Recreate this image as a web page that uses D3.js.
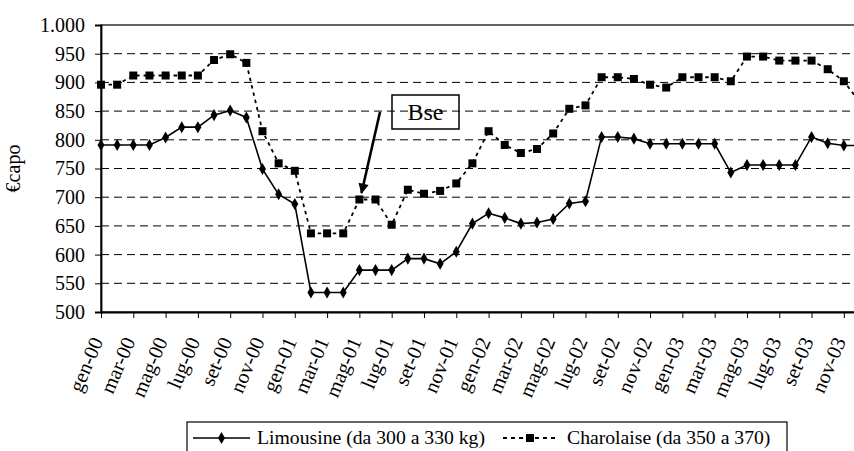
<!DOCTYPE html>
<html>
<head>
<meta charset="utf-8">
<script src="https://cdn.jsdelivr.net/npm/d3@7"></script>
<style>
  html, body { margin: 0; padding: 0; background: #fff; overflow: hidden; }
  svg { display: block; }
  svg text { font-family: "Liberation Serif", "Times New Roman", serif; fill: #000; }
</style>
</head>
<body>
<div id="chart"></div>
<script>
// Monthly prices, gen-00 .. dic-03 (€/capo)
const months = [];
const monthNames = ['gen', 'feb', 'mar', 'apr', 'mag', 'giu', 'lug', 'ago', 'set', 'ott', 'nov', 'dic'];
['00', '01', '02', '03'].forEach(yr => monthNames.forEach(m => months.push(m + '-' + yr)));

const limousine = [
  791, 791, 791, 791, 804, 822, 822, 843, 851, 839, 749, 705,
  688, 534, 534, 534, 573, 573, 573, 593, 593, 584, 605, 654,
  672, 664, 654, 656, 662, 689, 693, 805, 805, 802, 793, 793,
  793, 793, 793, 743, 756, 756, 756, 756, 805, 794, 790, 790
];
const charolaise = [
  896, 896, 912, 912, 912, 912, 912, 939, 949, 934, 815, 759,
  746, 637, 637, 637, 696, 696, 652, 713, 706, 711, 724, 759,
  815, 791, 777, 784, 811, 854, 860, 909, 909, 906, 896, 891,
  909, 909, 909, 902, 945, 945, 938, 938, 938, 923, 902, 865
];
const yTicks = [500, 550, 600, 650, 700, 750, 800, 850, 900, 950, 1000];
const seriesNames = ['Limousine (da 300 a 330 kg)', 'Charolaise (da 350 a 370)'];

const width = 854, height = 451;
const plot = { left: 101, top: 25, bottom: 312, right: 860 };

const svg = d3.select('#chart').append('svg')
  .attr('width', width).attr('height', height);

const x = d3.scalePoint().domain(months).range([plot.left, plot.right]);
const y = d3.scaleLinear().domain([500, 1000]).range([plot.bottom, plot.top]);

const it = d3.formatLocale({ decimal: ',', thousands: '.', grouping: [3], currency: ['€', ''] });
const fmt = it.format(',d');

// Horizontal dashed gridlines
svg.append('g')
  .selectAll('line')
  .data(yTicks.filter(v => v > 500 && v < 1000))
  .join('line')
  .attr('x1', plot.left).attr('x2', plot.right)
  .attr('y1', d => y(d)).attr('y2', d => y(d))
  .attr('stroke', '#000')
  .attr('stroke-width', 1)
  .attr('stroke-dasharray', '8 5');

// Plot area border
svg.append('rect')
  .attr('x', plot.left).attr('y', plot.top)
  .attr('width', plot.right - plot.left).attr('height', plot.bottom - plot.top)
  .attr('fill', 'none')
  .attr('stroke', '#000')
  .attr('stroke-width', 1.2);

// Y axis
const yAxis = svg.append('g')
  .attr('transform', `translate(${plot.left},0)`)
  .call(d3.axisLeft(y).tickValues(yTicks).tickFormat(fmt).tickSize(6).tickPadding(10));
yAxis.attr('font-family', null).attr('font-size', null);
yAxis.select('.domain').attr('stroke-width', 1.8);
yAxis.selectAll('text').style('font-size', '20px');

// X axis
const xAxis = svg.append('g')
  .attr('transform', `translate(0,${plot.bottom})`)
  .call(d3.axisBottom(x)
    .tickValues(months.filter((m, i) => i % 2 === 0))
    .tickSize(6).tickSizeOuter(0));
xAxis.attr('font-family', null).attr('font-size', null);
xAxis.select('.domain').attr('stroke-width', 2.2);
xAxis.selectAll('text')
  .style('font-size', '20.5px')
  .attr('text-anchor', 'end')
  .attr('dy', null)
  .attr('y', 0)
  .attr('transform', 'translate(2,29) rotate(-67)');

// Axis title
svg.append('text')
  .attr('transform', `translate(20,${(plot.top + plot.bottom) / 2}) rotate(-90)`)
  .attr('text-anchor', 'middle')
  .style('font-size', '20px')
  .text('€capo');

// Series lines
const line = d3.line().x((d, i) => x(months[i])).y(d => y(d));

svg.append('path')
  .datum(charolaise)
  .attr('fill', 'none')
  .attr('stroke', '#000')
  .attr('stroke-width', 1.8)
  .attr('stroke-dasharray', '3.5 4')
  .attr('d', line);

svg.append('path')
  .datum(limousine)
  .attr('fill', 'none')
  .attr('stroke', '#000')
  .attr('stroke-width', 1.6)
  .attr('d', line);

// Markers
svg.append('g')
  .selectAll('rect')
  .data(charolaise)
  .join('rect')
  .attr('x', (d, i) => x(months[i]) - 4)
  .attr('y', d => y(d) - 4)
  .attr('width', 8).attr('height', 8)
  .attr('fill', '#000');

const diamond = d3.symbol().type(d3.symbolDiamond).size(42);
svg.append('g')
  .selectAll('path')
  .data(limousine)
  .join('path')
  .attr('transform', (d, i) => `translate(${x(months[i])},${y(d)})`)
  .attr('d', diamond)
  .attr('fill', '#000');

// "Bse" annotation with arrow
svg.append('defs').append('marker')
  .attr('id', 'arrow')
  .attr('viewBox', '0 0 10 10')
  .attr('refX', 9).attr('refY', 5)
  .attr('markerWidth', 5).attr('markerHeight', 4)
  .attr('markerUnits', 'strokeWidth')
  .attr('orient', 'auto')
  .append('path')
  .attr('d', 'M0,0 L10,5 L0,10 Z')
  .attr('fill', '#000');

svg.append('line')
  .attr('x1', 380).attr('y1', 112)
  .attr('x2', 361.5).attr('y2', 193)
  .attr('stroke', '#000')
  .attr('stroke-width', 2.6)
  .attr('marker-end', 'url(#arrow)');

svg.append('rect')
  .attr('x', 392).attr('y', 95)
  .attr('width', 67).attr('height', 34)
  .attr('fill', 'none')
  .attr('stroke', '#000')
  .attr('stroke-width', 1.5);
svg.append('text')
  .attr('x', 425.5).attr('y', 119.5)
  .attr('text-anchor', 'middle')
  .style('font-size', '24px')
  .text('Bse');

// Legend
const legend = svg.append('g');
legend.append('rect')
  .attr('x', 187).attr('y', 422)
  .attr('width', 600).attr('height', 40)
  .attr('fill', '#fff')
  .attr('stroke', '#000')
  .attr('stroke-width', 1.2);

const ly = 438;
legend.append('line')
  .attr('x1', 193).attr('x2', 250).attr('y1', ly).attr('y2', ly)
  .attr('stroke', '#000').attr('stroke-width', 1.6);
legend.append('path')
  .attr('transform', `translate(221.5,${ly})`)
  .attr('d', diamond).attr('fill', '#000');
legend.append('text')
  .attr('x', 257).attr('y', ly + 6)
  .style('font-size', '19.7px')
  .text(seriesNames[0]);

legend.append('line')
  .attr('x1', 503).attr('x2', 557).attr('y1', ly).attr('y2', ly)
  .attr('stroke', '#000').attr('stroke-width', 1.8)
  .attr('stroke-dasharray', '4 4');
legend.append('rect')
  .attr('x', 526).attr('y', ly - 4)
  .attr('width', 8).attr('height', 8)
  .attr('fill', '#000');
legend.append('text')
  .attr('x', 567).attr('y', ly + 6)
  .style('font-size', '19.7px')
  .text(seriesNames[1]);
</script>
</body>
</html>
